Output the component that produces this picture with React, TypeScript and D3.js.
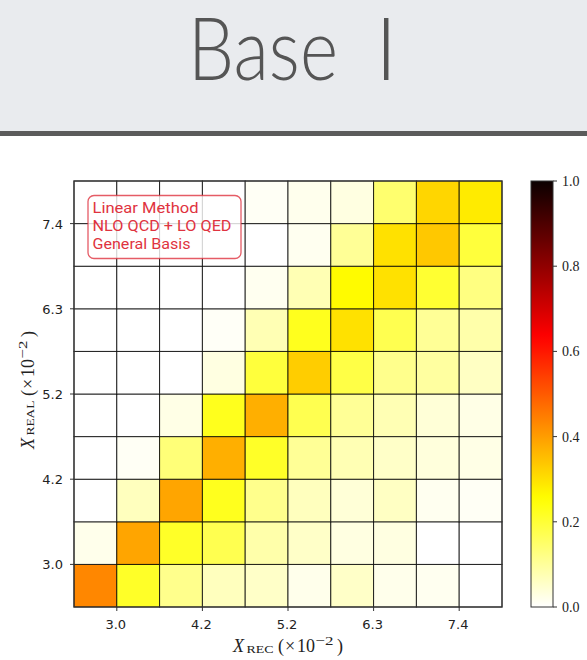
import React from "react";
import * as d3 from "d3";

// Bin counts along each axis and the labelled bin edges (in units of 10^-2)
const NBINS = 10;
const tickEdges = [1, 3, 5, 7, 9];
const tickLabels = ["3.0", "4.2", "5.2", "6.3", "7.4"];
const colorbarTicks = [0, 0.2, 0.4, 0.6, 0.8, 1.0];

// Normalised migration matrix: one array per X_REAL bin, lowest bin first,
// each entry is one X_REC bin from left to right.
const realBin0 = [0.433, 0.214, 0.115, 0.065, 0.055, 0.02, 0.055, 0.02, 0.015, 0];
const realBin1 = [0.02, 0.388, 0.214, 0.174, 0.085, 0.055, 0.03, 0.03, 0, 0];
const realBin2 = [0, 0.065, 0.388, 0.224, 0.115, 0.065, 0.04, 0.06, 0.015, 0.01];
const realBin3 = [0, 0.01, 0.134, 0.374, 0.214, 0.105, 0.075, 0.055, 0.035, 0.025];
const realBin4 = [0, 0, 0.025, 0.225, 0.374, 0.174, 0.105, 0.075, 0.04, 0.025];
const realBin5 = [0, 0, 0, 0.03, 0.194, 0.329, 0.184, 0.115, 0.095, 0.06];
const realBin6 = [0, 0, 0, 0.008, 0.075, 0.224, 0.299, 0.174, 0.105, 0.085];
const realBin7 = [0, 0, 0, 0, 0.015, 0.075, 0.26, 0.299, 0.204, 0.125];
const realBin8 = [0, 0, 0, 0, 0.0, 0.015, 0.105, 0.299, 0.336, 0.194];
const realBin9 = [0, 0, 0, 0, 0.01, 0.018, 0.03, 0.144, 0.315, 0.284];
const matrix = [realBin0, realBin1, realBin2, realBin3, realBin4, realBin5, realBin6, realBin7, realBin8, realBin9];

const legendLines = ["Linear Method", "NLO QCD + LO QED", "General Basis"];

// matplotlib "hot" colormap, reversed
const hotR = d3.scaleLinear().domain([0, 0.365079, 1]).range([0.0416, 1, 1]).clamp(true);
const hotG = d3.scaleLinear().domain([0, 0.365079, 0.746032, 1]).range([0, 0, 1, 1]).clamp(true);
const hotB = d3.scaleLinear().domain([0, 0.746032, 1]).range([0, 0, 1]).clamp(true);
function hotReversed(v: number): string {
  const t = 1 - Math.max(0, Math.min(1, v));
  return d3.rgb(hotR(t) * 255, hotG(t) * 255, hotB(t) * 255).formatHex();
}

const W = 587;
const H = 660;
const plot = { left: 74, right: 502, top: 181, bottom: 607 };
const cbar = { left: 531, right: 553 };

const serif = "'Liberation Serif', 'DejaVu Serif', serif";
const sans = "'DejaVu Sans', sans-serif";
const legendRed = "#df3340";

// Math-style axis title: X_sub (×10^-2), laid out from its left end
function AxisTitle({ sub, subWidth }: { sub: string; subWidth: number }) {
  const o = subWidth - 27;
  return (
    <text fontFamily={serif} fontSize={18} fill="#222">
      <tspan x={0} y={0} fontStyle="italic">X</tspan>
      <tspan x={13.5} y={0.5} fontSize={11} textLength={subWidth} lengthAdjust="spacingAndGlyphs">{sub}</tspan>
      <tspan x={45 + o} y={0}>(</tspan>
      <tspan x={52 + o} y={0}>×</tspan>
      <tspan x={64 + o} y={0}>10</tspan>
      <tspan x={82.5 + o} y={-7} fontSize={13.5} textLength={18} lengthAdjust="spacingAndGlyphs">−2</tspan>
      <tspan x={104 + o} y={0}>)</tspan>
    </text>
  );
}

export default function App() {
  const x = d3.scaleLinear().domain([0, NBINS]).range([plot.left, plot.right]);
  const y = d3.scaleLinear().domain([0, NBINS]).range([plot.bottom, plot.top]);
  const cy = d3.scaleLinear().domain([0, 1]).range([plot.bottom, plot.top]);
  const gradStops = d3.range(0, 1.0001, 0.02);

  return (
    <svg width={W} height={H} style={{ position: "absolute", left: 0, top: 0 }} xmlns="http://www.w3.org/2000/svg">
      <defs>
        <linearGradient id="cmap" x1="0" y1="1" x2="0" y2="0">
          {gradStops.map((s) => (
            <stop key={s} offset={s} stopColor={hotReversed(s)} />
          ))}
        </linearGradient>
      </defs>
      <rect x={0} y={0} width={W} height={H} fill="#ffffff" />

      {/* slide header */}
      <rect x={0} y={0} width={W} height={132} fill="#e9ebee" />
      <rect x={0} y={131} width={W} height={5} fill="#5b5b5b" />
      <text y={80} fill="#555555" fontFamily="Lato, 'Open Sans', sans-serif" fontWeight={300} fontSize={86}>
        <tspan x={188} textLength={150} lengthAdjust="spacingAndGlyphs">Base</tspan>
        <tspan x={375}>I</tspan>
      </text>

      {/* heatmap cells */}
      <g>
        {matrix.map((row, yi) =>
          row.map((v, xi) => (
            <rect
              key={`${yi}-${xi}`}
              x={x(xi)}
              y={y(yi + 1)}
              width={x(xi + 1) - x(xi)}
              height={y(yi) - y(yi + 1)}
              fill={hotReversed(v)}
              stroke="#000"
              strokeOpacity={0.8}
              strokeWidth={1}
            />
          ))
        )}
      </g>
      <rect x={plot.left} y={plot.top} width={plot.right - plot.left} height={plot.bottom - plot.top} fill="none" stroke="#333" strokeWidth={1.2} />

      {/* axes ticks */}
      <g fontFamily={sans} fontSize={13} fill="#222">
        {tickEdges.map((e, i) => (
          <g key={`xt${i}`}>
            <line x1={x(e)} x2={x(e)} y1={plot.bottom} y2={plot.bottom + 4} stroke="#333" />
            <text x={x(e) - 1} y={plot.bottom + 22} textAnchor="middle">{tickLabels[i]}</text>
          </g>
        ))}
        {tickEdges.map((e, i) => (
          <g key={`yt${i}`}>
            <line x1={plot.left - 4} x2={plot.left} y1={y(e)} y2={y(e)} stroke="#333" />
            <text x={plot.left - 11} y={y(e) + 5} textAnchor="end">{tickLabels[i]}</text>
          </g>
        ))}
      </g>

      {/* axis titles */}
      <g transform="translate(233, 652)">
        <AxisTitle sub="REC" subWidth={27} />
      </g>
      <g transform="translate(33.5, 449) rotate(-90)">
        <AxisTitle sub="REAL" subWidth={35} />
      </g>

      {/* legend box */}
      <rect x={88} y={195.5} width={153} height={63} rx={6} fill="#ffffff" fillOpacity={0.8} stroke={legendRed} strokeOpacity={0.8} strokeWidth={1.3} />
      <g fill={legendRed} fontFamily="Roboto, sans-serif">
        <text x={92.5} y={212.7} fontSize={15.5} textLength={106} lengthAdjust="spacingAndGlyphs">{legendLines[0]}</text>
        <text x={92.5} y={231.3} fontSize={14.5} textLength={139} lengthAdjust="spacingAndGlyphs">{legendLines[1]}</text>
        <text x={92.5} y={249} fontSize={15.5} textLength={98} lengthAdjust="spacingAndGlyphs">{legendLines[2]}</text>
      </g>

      {/* colorbar */}
      <rect x={cbar.left} y={plot.top} width={cbar.right - cbar.left} height={plot.bottom - plot.top} fill="url(#cmap)" stroke="#333" strokeWidth={1} />
      <g fontFamily={serif} fontSize={14} fill="#222">
        {colorbarTicks.map((t) => (
          <g key={`cb${t}`}>
            <line x1={cbar.right} x2={cbar.right + 4} y1={cy(t)} y2={cy(t)} stroke="#333" />
            <text x={cbar.right + 9} y={cy(t) + 5}>{t.toFixed(1)}</text>
          </g>
        ))}
      </g>
    </svg>
  );
}
